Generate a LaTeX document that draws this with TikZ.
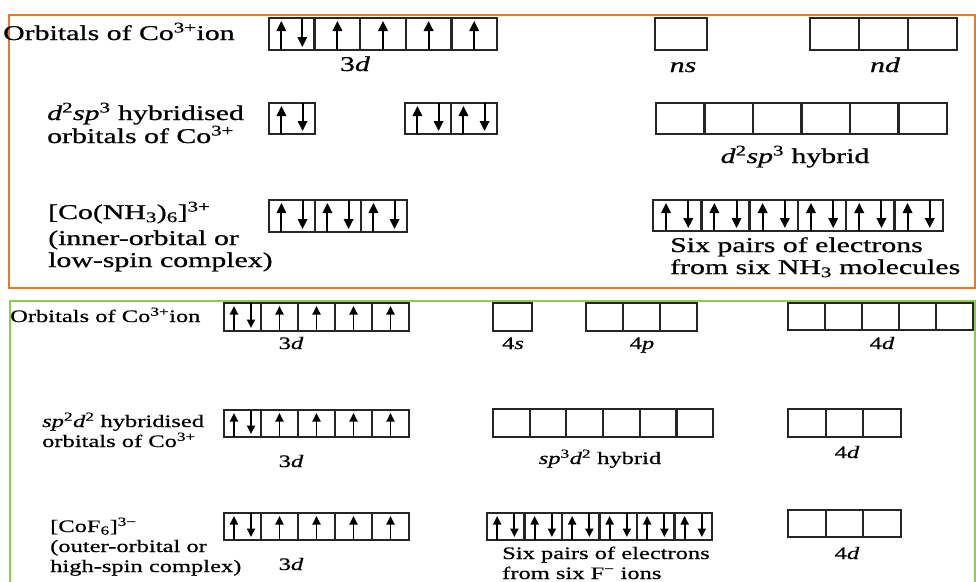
\documentclass[tikz,border=0pt]{standalone}
\usepackage{fontspec}
\setmainfont{Liberation Serif}
\newfontfamily\topfont[FakeStretch=1.42,FakeBold=0.8]{Liberation Serif}
\newfontfamily\botfont[FakeStretch=1.4,FakeBold=0.6]{Liberation Serif}
\usetikzlibrary{arrows.meta,calc}
\definecolor{panelorange}{RGB}{230,122,40}
\definecolor{panelgreen}{RGB}{140,205,80}

\tikzset{
  orb/.style={draw=black!85,line width=2.4pt,inner sep=0pt,outer sep=0pt},
  spin/.style={line width=2pt,-{Triangle[width=9.5pt,length=10pt]}},
  toptext/.style={inner sep=0pt,font=\topfont\fontsize{21}{25}\selectfont},
  bottext/.style={inner sep=0pt,font=\botfont\fontsize{17.5}{21}\selectfont},
}

% electron arrows inside one orbital box
\newcommand\spinud[1]{%
  \draw[spin] ($(#1.south west)!0.27!(#1.south east)$) -- ($(#1.north west)!0.27!(#1.north east)+(0,3)$);
  \draw[spin] ($(#1.north west)!0.73!(#1.north east)$) -- ($(#1.south west)!0.73!(#1.south east)+(0,-3)$);}
\newcommand\spinu[1]{%
  \draw[spin] (#1.south) -- ($(#1.north)+(0,3)$);}
\newcommand\spine[1]{}

% a row of orbital boxes: name, left x, top y, box width, box height, fillings
\newcommand\orbrow[6]{%
  \foreach \s [count=\i from 0] in {#6}{%
    \node[orb,minimum width=#4pt,minimum height=#5pt,anchor=north west] (#1-\i) at ({#2+\i*#4},#3) {};
    \csname spin\s\endcsname{#1-\i}%
  }}

\begin{document}
\begin{tikzpicture}[x=1pt,y=-1pt]
\useasboundingbox (0,0) rectangle (976,581);
\fill[white] (0,0) rectangle (976,581);

% panel frames
\draw[panelorange,line width=2.2pt] (9,15) rectangle (975,288);
\draw[panelgreen,line width=2.2pt] (10,301) rectangle (975,595);

% ---------- low-spin complex ----------
\node[toptext,anchor=base west] (a-lab1) at (3,40) {Orbitals of Co\textsuperscript{3+}ion};
\orbrow{a1d}{269}{18}{45.6}{32}{ud,u,u,u,u}
\orbrow{a1s}{655}{18}{52}{32}{e}
\orbrow{a1n}{810}{18}{49}{32}{e,e,e}
\node[toptext,anchor=base] (a-3d) at (355,71) {3\textit{d}};
\node[toptext,anchor=base] (a-ns) at (683,72) {\textit{ns}};
\node[toptext,anchor=base] (a-nd) at (885,72) {\textit{nd}};

\node[toptext,anchor=base west] (a-lab2a) at (47,120) {\textit{d}\textsuperscript{2}\textit{sp}\textsuperscript{3} hybridised};
\node[toptext,anchor=base west] (a-lab2b) at (47,143) {orbitals of Co\textsuperscript{3+}};
\orbrow{a2a}{269}{103}{46}{31}{ud}
\orbrow{a2b}{405}{103}{46}{31}{ud,ud}
\orbrow{a2h}{656}{103}{48.5}{31}{e,e,e,e,e,e}
\node[toptext,anchor=base] (a-hyb) at (795,163) {\textit{d}\textsuperscript{2}\textit{sp}\textsuperscript{3} hybrid};

\node[toptext,anchor=base west] (a-lab3a) at (48,219) {[Co(NH\textsubscript{3})\textsubscript{6}]\textsuperscript{3+}};
\node[toptext,anchor=base west] (a-lab3b) at (48,245) {(inner-orbital or};
\node[toptext,anchor=base west] (a-lab3c) at (48,267) {low-spin complex)};
\orbrow{a3d}{269}{200}{46}{32}{ud,ud,ud}
\orbrow{a3h}{653}{200}{48.3}{31}{ud,ud,ud,ud,ud,ud}
\node[toptext,anchor=base west] (a-pr1) at (670,252) {Six pairs of electrons};
\node[toptext,anchor=base west] (a-pr2) at (670,274) {from six NH\textsubscript{3} molecules};

% ---------- high-spin complex ----------
\begin{scope}[spin/.style={line width=1.8pt,-{Triangle[width=8pt,length=8.5pt]}},
              orb/.style={draw=black!85,line width=2.1pt,inner sep=0pt,outer sep=0pt}]
\node[bottext,anchor=base west] (b-lab1) at (10,322) {Orbitals of Co\textsuperscript{3+}ion};
\orbrow{b1d}{224}{303}{37}{28}{ud,u,u,u,u}
\orbrow{b1s}{493}{303}{39}{28}{e}
\orbrow{b1p}{586}{303}{37}{28}{e,e,e}
\orbrow{b1n}{788}{303}{37}{27}{e,e,e,e,e}
\node[bottext,anchor=base] (b-3d) at (291,349) {3\textit{d}};
\node[bottext,anchor=base] (b-4s) at (513,349) {4\textit{s}};
\node[bottext,anchor=base] (b-4p) at (642,349) {4\textit{p}};
\node[bottext,anchor=base] (b-4d) at (882,349) {4\textit{d}};

\node[bottext,anchor=base west] (b-lab2a) at (42,427) {\textit{sp}\textsuperscript{2}\textit{d}\textsuperscript{2} hybridised};
\node[bottext,anchor=base west] (b-lab2b) at (42,447) {orbitals of Co\textsuperscript{3+}};
\orbrow{b2d}{224}{410}{37}{27}{ud,u,u,u,u}
\orbrow{b2h}{493}{409}{36.7}{28}{e,e,e,e,e,e}
\orbrow{b2n}{788}{409}{37.7}{28}{e,e,e}
\node[bottext,anchor=base] (b-3d2) at (291,467) {3\textit{d}};
\node[bottext,anchor=base] (b-hyb) at (600,464) {\textit{sp}\textsuperscript{3}\textit{d}\textsuperscript{2} hybrid};
\node[bottext,anchor=base] (b-4d2) at (847,458) {4\textit{d}};

\node[bottext,anchor=base west] (b-lab3a) at (50,532) {[CoF\textsubscript{6}]\textsuperscript{3−}};
\node[bottext,anchor=base west] (b-lab3b) at (50,552) {(outer-orbital or};
\node[bottext,anchor=base west] (b-lab3c) at (50,572) {high-spin complex)};
\orbrow{b3d}{224}{513}{37}{27}{ud,u,u,u,u}
\orbrow{b3h}{487}{513}{37.5}{27}{ud,ud,ud,ud,ud,ud}
\orbrow{b3n}{788}{510}{37.7}{27}{e,e,e}
\node[bottext,anchor=base] (b-3d3) at (291,570) {3\textit{d}};
\node[bottext,anchor=base west] (b-pr1) at (502,559) {Six pairs of electrons};
\node[bottext,anchor=base west] (b-pr2) at (502,579) {from six F\textsuperscript{−} ions};
\node[bottext,anchor=base] (b-4d3) at (847,559) {4\textit{d}};
\end{scope}
\end{tikzpicture}
\end{document}
